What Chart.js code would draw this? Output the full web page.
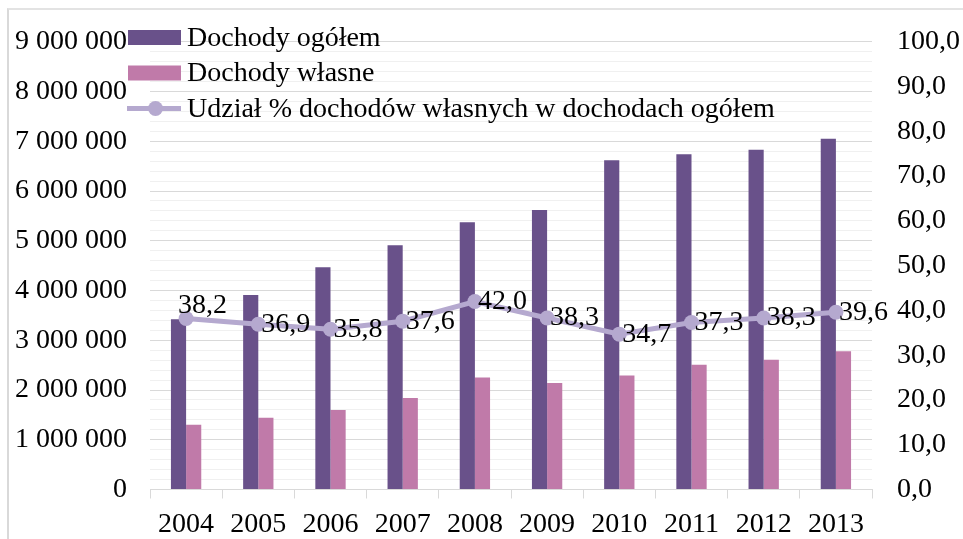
<!DOCTYPE html>
<html>
<head>
<meta charset="utf-8">
<script src="https://cdn.jsdelivr.net/npm/chart.js@4/dist/chart.umd.min.js"></script>
<style>
  html, body { margin: 0; padding: 0; background: #fff; }
  #wrap { position: relative; width: 963px; height: 539px; overflow: hidden; }
  #frame { position: absolute; left: 7px; top: 8px; width: 970px; height: 600px;
           border-left: 2px solid #d9d9d9; border-top: 2px solid #e3e3e3; }
  canvas { position: absolute; left: 0; top: 0; }
</style>
</head>
<body>
<div id="wrap">
  <div id="frame"></div>
  <canvas id="c" width="963" height="539"></canvas>
</div>
<script>
const categories = ['2004', '2005', '2006', '2007', '2008', '2009', '2010', '2011', '2012', '2013'];
const dochodyOgolem = [3420000, 3910000, 4470000, 4910000, 5370000, 5620000, 6620000, 6740000, 6830000, 7050000];
const dochodyWlasne = [1300000, 1440000, 1600000, 1840000, 2250000, 2140000, 2290000, 2510000, 2610000, 2780000];
const udzial = [38.2, 36.9, 35.8, 37.6, 42.0, 38.3, 34.7, 37.3, 38.3, 39.6];
const seriesNames = ['Dochody ogółem', 'Dochody własne', 'Udział % dochodów własnych w dochodach ogółem'];

const FONT = '"Liberation Serif", "Times New Roman", serif';
const FSIZE = 28;
const C_DARK = '#69518a';
const C_PINK = '#c07aa9';
const C_LINE = '#b5a9cf';

function fmtInt(v) {
  return String(Math.round(v)).replace(/\B(?=(\d{3})+(?!\d))/g, ' ');
}
function fmtDec(v) {
  return v.toFixed(1).replace('.', ',');
}

const legendPlugin = {
  id: 'customLegend',
  afterDraw(chart) {
    const ctx = chart.ctx;
    ctx.save();
    ctx.font = FSIZE + 'px ' + FONT;
    ctx.fillStyle = '#000';
    ctx.textBaseline = 'middle';
    ctx.textAlign = 'left';
    const x0 = 128, w = 53, tx = 187;
    const ys = [37.5, 73, 108.5];
    chart.data.datasets.forEach((ds, i) => {
      const y = ys[i];
      if (ds.type === 'line') {
        ctx.strokeStyle = ds.borderColor;
        ctx.lineWidth = 5;
        ctx.beginPath();
        ctx.moveTo(x0 - 1, y);
        ctx.lineTo(x0 + w, y);
        ctx.stroke();
        ctx.fillStyle = ds.borderColor;
        ctx.beginPath();
        ctx.arc(x0 + w / 2 + 1, y, 7.5, 0, Math.PI * 2);
        ctx.fill();
      } else {
        ctx.fillStyle = ds.backgroundColor;
        ctx.fillRect(x0, y - 7.5, w, 15);
      }
      ctx.fillStyle = '#000';
      ctx.fillText(ds.label, tx, y + 1);
    });
    ctx.restore();
  }
};

const labelPlugin = {
  id: 'lineLabels',
  afterDatasetsDraw(chart) {
    const idx = chart.data.datasets.findIndex(d => d.type === 'line');
    const meta = chart.getDatasetMeta(idx);
    const ctx = chart.ctx;
    ctx.save();
    ctx.font = FSIZE + 'px ' + FONT;
    ctx.fillStyle = '#000';
    ctx.textBaseline = 'middle';
    ctx.textAlign = 'left';
    meta.data.forEach((pt, i) => {
      const v = chart.data.datasets[idx].data[i];
      let dx = 3, dy = 0;
      if (i === 0) { dx = -8; dy = -13; }
      ctx.fillText(fmtDec(v), pt.x + dx, pt.y + dy);
    });
    ctx.restore();
  }
};

new Chart(document.getElementById('c'), {
  type: 'bar',
  data: {
    labels: categories,
    datasets: [
      { type: 'bar', label: seriesNames[0], data: dochodyOgolem, backgroundColor: C_DARK,
        yAxisID: 'y', order: 1, categoryPercentage: 0.42, barPercentage: 1.0 },
      { type: 'bar', label: seriesNames[1], data: dochodyWlasne, backgroundColor: C_PINK,
        yAxisID: 'y', order: 1, categoryPercentage: 0.42, barPercentage: 1.0 },
      { type: 'line', label: seriesNames[2], data: udzial, borderColor: C_LINE, backgroundColor: C_LINE,
        borderWidth: 5, pointRadius: 7.5, pointBackgroundColor: C_LINE, pointBorderWidth: 0,
        pointHoverRadius: 7.5, tension: 0, yAxisID: 'y1', order: 0 }
    ]
  },
  options: {
    responsive: false,
    animation: false,
    devicePixelRatio: 1,
    layout: { padding: { left: 10, right: 2, top: 16, bottom: 0 } },
    plugins: { legend: { display: false }, tooltip: { enabled: false } },
    scales: {
      x: {
        offset: true,
        afterFit: (s) => { s.height = 49.5; },
        grid: { display: true, drawOnChartArea: false, drawTicks: true, tickLength: 9,
                color: '#d9d9d9', offset: true },
        border: { display: true, color: '#d9d9d9', width: 1 },
        ticks: { color: '#000', font: { family: FONT, size: FSIZE }, padding: 9, maxRotation: 0 }
      },
      y: {
        position: 'left',
        min: 0, max: 9000000,
        afterFit: (s) => { s.width = 140; },
        grid: {
          drawTicks: false,
          color: (c) => (c.tick && c.tick.value % 1000000 === 0) ? '#d9d9d9' : '#f0f0f0',
          lineWidth: 1
        },
        border: { display: false },
        ticks: {
          stepSize: 200000, autoSkip: false, color: '#000', padding: 23,
          font: { family: FONT, size: FSIZE },
          callback: (v) => (v % 1000000 === 0) ? fmtInt(v) : ''
        }
      },
      y1: {
        position: 'right',
        min: 0, max: 100,
        afterFit: (s) => { s.width = 89; },
        grid: { display: false, drawOnChartArea: false, drawTicks: false },
        border: { display: false },
        ticks: { stepSize: 10, color: '#000', padding: 25,
                 font: { family: FONT, size: FSIZE },
                 callback: (v) => fmtDec(v) }
      }
    }
  },
  plugins: [labelPlugin, legendPlugin]
});
</script>
</body>
</html>
